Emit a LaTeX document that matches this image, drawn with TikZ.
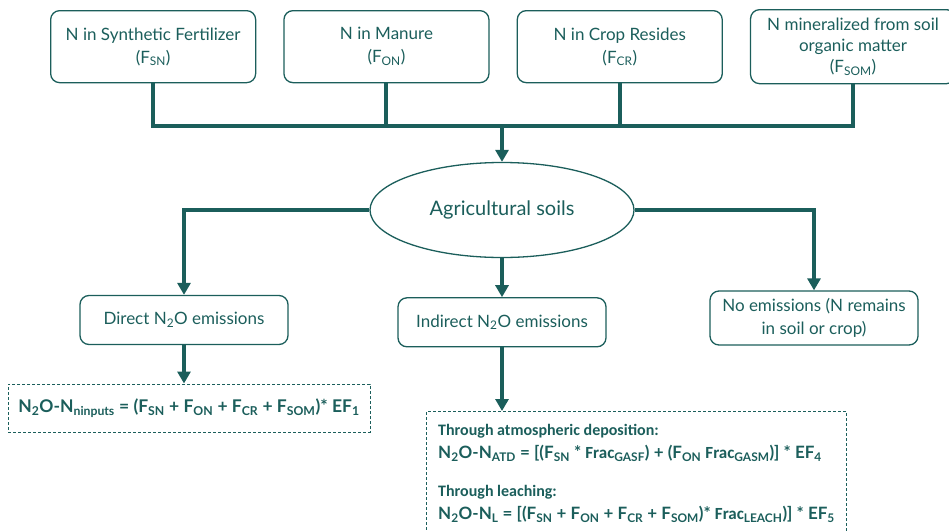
\documentclass[tikz,border=0pt]{standalone}
\usepackage{fontspec}
\setmainfont{Lato}
\newfontfamily\calibri{Carlito}
\usetikzlibrary{arrows.meta,positioning,shapes.geometric}
\definecolor{soilgreen}{HTML}{1B5E5B}

\begin{document}
\begin{tikzpicture}[
  x=1pt,y=-1pt,
  node distance=27pt,
  every node/.style={font=\fontsize{17}{23}\selectfont,text=soilgreen},
  source/.style={draw=soilgreen,line width=1.3pt,rounded corners=9pt,minimum width=205pt,minimum height=72pt,align=center,inner sep=2pt},
  soil/.style={ellipse,draw=soilgreen,line width=1.3pt,minimum width=264pt,minimum height=95pt,inner sep=0pt,font=\fontsize{20}{24}\selectfont},
  emission/.style={draw=soilgreen,line width=1.3pt,rounded corners=9pt,minimum width=208pt,minimum height=49pt,align=center},
  formula/.style={draw=soilgreen,line width=1pt,dash pattern=on 3pt off 2pt,font=\fontsize{17.5}{23}\selectfont\bfseries},
  bus/.style={draw=soilgreen,line width=4pt},
  arrow/.style={bus,-{Triangle[length=12pt,width=13pt]}}
]
\useasboundingbox (0,0) rectangle (949,530);
\clip (0,0) rectangle (949,530);

% nitrogen inputs
\node[source,anchor=north west] (sn) at (50,10) {N in Synthetic Fertilizer\\(F\textsubscript{SN})};
\node[source,right=of sn] (on) {N in Manure\\(F\textsubscript{ON})};
\node[source,right=of on] (cr) {N in Crop Resides\\(F\textsubscript{CR})};
\node[source,right=of cr,minimum height=74pt,font=\fontsize{17}{21}\selectfont] (som) {N mineralized from soil\\organic matter\\(F\textsubscript{SOM})};

\coordinate (bus) at (502,126);
\node[soil] (soil) at (502,210) {Agricultural soils};

\draw[bus] (sn.south) |- (som.south |- bus) -- (som.south);
\draw[bus] (on.south) -- (on.south |- bus);
\draw[bus] (cr.south) -- (cr.south |- bus);
\draw[arrow] (bus) -- (soil.north);

% pathways
\node[emission] (direct) at (184,320) {Direct N\textsubscript{2}O emissions};
\node[emission,below=39pt of soil] (indirect) {Indirect N\textsubscript{2}O emissions};
\node[emission,minimum height=54pt] (none) at (814,318) {No emissions (N remains\\in soil or crop)};

\draw[arrow] (soil.west) -| (direct.north);
\draw[arrow] (soil.east) -| (none.north);
\draw[arrow] (soil.south) -- (indirect.north);

% equations
\node[formula,minimum width=362pt,minimum height=48pt] (fdirect) at (189,408)
  {N\textsubscript{2}O-N\textsubscript{ninputs} = (F\textsubscript{SN} + F\textsubscript{ON} + F\textsubscript{CR} + F\textsubscript{SOM})* EF\textsubscript{1}};
\node[formula,font=\fontsize{17}{23}\selectfont\bfseries,anchor=north west,minimum width=420pt,align=left,inner xsep=0pt,inner ysep=13pt] (findirect) at (426,411)
  {{\calibri\fontsize{16}{18}\selectfont Through atmospheric deposition:}\\
   N\textsubscript{2}O-N\textsubscript{ATD} = [(F\textsubscript{SN} * {\calibri Frac}\textsubscript{GASF}) + (F\textsubscript{ON} {\calibri Frac}\textsubscript{GASM})] * EF\textsubscript{4}\\[15pt]
   {\calibri\fontsize{16}{18}\selectfont Through leaching:}\\
   N\textsubscript{2}O-N\textsubscript{L} = [(F\textsubscript{SN} + F\textsubscript{ON} + F\textsubscript{CR} + F\textsubscript{SOM})* {\calibri Frac}\textsubscript{LEACH})] * EF\textsubscript{5}\\
   \mbox{}};

\draw[arrow] (direct.south) -- (direct.south |- fdirect.north);
\draw[arrow] (indirect.south) -- (indirect.south |- findirect.north);
\end{tikzpicture}
\end{document}
